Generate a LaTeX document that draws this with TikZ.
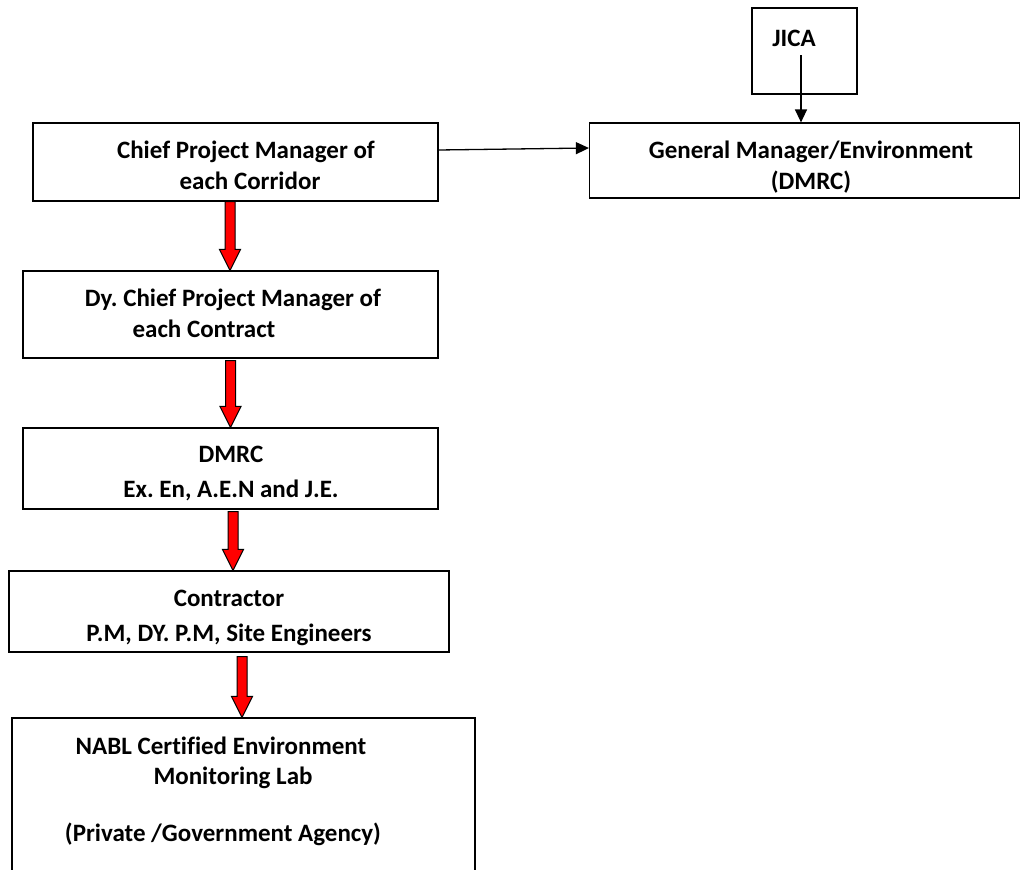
\documentclass[tikz,border=0pt]{standalone}
\usepackage{fontspec}
\setmainfont{Carlito}[Ligatures = CommonOff]
\frenchspacing
\usetikzlibrary{arrows.meta,calc}

\tikzset{
  box/.style = {draw, line width = 1.2pt, inner sep = 0pt},
  lbl/.style = {font = \fontsize{25}{30}\selectfont\bfseries, inner sep = 0pt, anchor = base},
  blackarrow/.style = {line width = 1.3pt, -{Triangle[length = 13pt, width = 12pt]}},
  redarrow/.style = {draw = black, line width = 1pt, fill = red, line join = miter,
    to path = {let \p1 = (\tikztostart), \p2 = (\tikztotarget) in
      (\x1-5pt,\y1) -- (\x1-5pt,\y2+21pt) -- (\x1-10.5pt,\y2+21pt) -- (\x1,\y2)
      -- (\x1+10.5pt,\y2+21pt) -- (\x1+5pt,\y2+21pt) -- (\x1+5pt,\y1) -- cycle}}
}

\begin{document}
\begin{tikzpicture}[x = 1pt, y = -1pt]
  \useasboundingbox (0,0) rectangle (1021,870);

  % boxes
  \node[box, minimum width = 105pt, minimum height = 86pt] (jica) at (804.5,51) {};
  \node[box, minimum width = 405pt, minimum height = 78pt] (cpm) at (235.5,162) {};
  \node[box, minimum width = 430pt, minimum height = 75pt] (gm) at (804.5,160.5) {};
  \node[box, minimum width = 415pt, minimum height = 87pt] (dcpm) at (230.5,314.5) {};
  \node[box, minimum width = 415pt, minimum height = 81pt] (dmrc) at (230.5,468.5) {};
  \node[box, minimum width = 440pt, minimum height = 81pt] (contr) at (229,611.5) {};
  \node[box, minimum width = 463pt, minimum height = 172pt] (nabl) at (243.5,804) {};

  % texts
  \node[lbl] (t-jica) at (794,46) {JICA};
  \node[lbl] (t-cpm1) at (246,158) {Chief Project Manager of};
  \node[lbl] (t-cpm2) at (250,189) {each Corridor};
  \node[lbl] (t-gm1) at (811,158) {General Manager/Environment};
  \node[lbl] (t-gm2) at (811,189) {(DMRC)};
  \node[lbl] (t-dcpm1) at (233,306) {Dy. Chief Project Manager of};
  \node[lbl] (t-dcpm2) at (204,337) {each Contract};
  \node[lbl] (t-dmrc1) at (231,462) {DMRC};
  \node[lbl] (t-dmrc2) at (231,497) {Ex. En, A.E.N and J.E.};
  \node[lbl] (t-contr1) at (229,606) {Contractor};
  \node[lbl] (t-contr2) at (229,641) {P.M, DY. P.M, Site Engineers};
  \node[lbl] (t-nabl1) at (221,754) {NABL Certified Environment};
  \node[lbl] (t-nabl2) at (233,784) {Monitoring Lab};
  \node[lbl] (t-nabl3) at (223,841) {(Private /Government Agency)};

  % connectors
  \draw[blackarrow] ([yshift = 12pt]cpm.east) -- ([yshift = 12.5pt]gm.west);
  \draw[blackarrow] ([xshift = -3.5pt, yshift = -4pt]jica.center) -- ([xshift = -3.5pt]jica.center |- gm.north);

  \draw[redarrow] ([xshift = -5.5pt]cpm.south) to ([xshift = -5.5pt]cpm.south |- dcpm.north);
  \draw[redarrow] ([yshift = -2pt]dcpm.south) to (dcpm.south |- dmrc.north);
  \draw[redarrow] ([xshift = 2.5pt, yshift = -2pt]dmrc.south) to ([xshift = 2.5pt]dmrc.south |- contr.north);
  \draw[redarrow] ([xshift = 13pt, yshift = -4pt]contr.south) to ([xshift = 13pt]contr.south |- nabl.north);
\end{tikzpicture}
\end{document}
